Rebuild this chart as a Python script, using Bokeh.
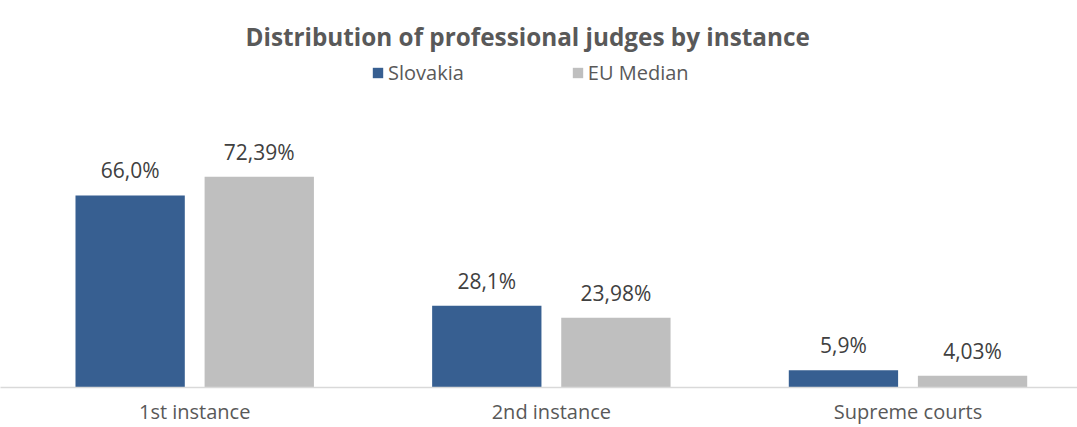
from bokeh.plotting import figure
from bokeh.models import Range1d, ColumnDataSource, LabelSet, Legend, LegendItem, FixedTicker
from bokeh.core.properties import value
from bokeh.transform import dodge
from bokeh.embed import file_html
from bokeh.resources import INLINE

categories = ["1st instance", "2nd instance", "Supreme courts"]
slovakia = [66.0, 28.1, 5.9]
eu_median = [72.39, 23.98, 4.03]
slovakia_labels = ["66,0%", "28,1%", "5,9%"]
eu_labels = ["72,39%", "23,98%", "4,03%"]
series_names = ["Slovakia", "EU Median"]

FONT = "Open Sans"
BLUE = "#375F91"
GREY = "#BFBFBF"

W, H = 1077, 427
TOP, BOTTOM = 56, 41
CAT_PX = 356.65
PX_PER_UNIT = 2.902
FRAME_H = H - TOP - BOTTOM
x_start = -194.2 / CAT_PX
x_end = x_start + W / CAT_PX
y_end = FRAME_H / PX_PER_UNIT

idx = list(range(len(categories)))
src = ColumnDataSource(dict(x=idx, sk=slovakia, eu=eu_median,
                            skl=slovakia_labels, eul=eu_labels))

p = figure(width=W, height=H, output_backend="svg", toolbar_location=None,
           x_range=Range1d(x_start, x_end), y_range=Range1d(0, y_end),
           min_border_left=0, min_border_right=0, min_border_top=TOP,
           min_border_bottom=0,
           title="Distribution of professional judges by instance")

p.title.align = "left"
p.title.text_font = FONT
p.title.text_font_size = "24.3px"
p.title.text_font_style = "bold"
p.title.text_color = "#595959"
p.title.offset = 245
p.title.standoff = 8

bw = 0.3065
off = 0.181
r1 = p.vbar(x=dodge("x", -off), top="sk", width=bw, source=src,
            fill_color=BLUE, line_color=None)
r2 = p.vbar(x=dodge("x", off), top="eu", width=bw, source=src,
            fill_color=GREY, line_color=None)

for col, lab, o in (("sk", "skl", -off), ("eu", "eul", off)):
    p.add_layout(LabelSet(x=dodge("x", o), y=col, text=lab, source=src,
                          text_align="center", text_baseline="alphabetic",
                          y_offset=17, text_font=value(FONT),
                          text_font_size=value("21px"),
                          text_color=value("#404040")))

legend = Legend(items=[LegendItem(label=series_names[0], renderers=[r1]),
                       LegendItem(label=series_names[1], renderers=[r2])],
                orientation="horizontal", location=(371, 301),
                glyph_width=13, glyph_height=13, label_standoff=4,
                label_height=20, spacing=107, padding=0, margin=0,
                border_line_color=None, background_fill_alpha=0,
                label_text_font=FONT, label_text_font_size="20px",
                label_text_color="#595959")
p.add_layout(legend, "center")

p.xaxis.ticker = FixedTicker(ticks=idx)
p.xaxis.major_label_overrides = {i: c for i, c in zip(idx, categories)}
p.xaxis.major_tick_line_color = None
p.xaxis.major_tick_out = 0
p.xaxis.major_tick_in = 0
p.xaxis.minor_tick_line_color = None
p.xaxis.minor_tick_out = 0
p.xaxis.axis_line_color = "#D9D9D9"
p.xaxis.axis_line_width = 1.5
p.xaxis.major_label_standoff = 10
p.xaxis.major_label_text_font = FONT
p.xaxis.major_label_text_font_size = "20px"
p.xaxis.major_label_text_color = "#595959"
p.yaxis.visible = False
p.xgrid.visible = False
p.ygrid.visible = False
p.outline_line_color = None

open("out.html", "w").write(file_html(p, INLINE))
